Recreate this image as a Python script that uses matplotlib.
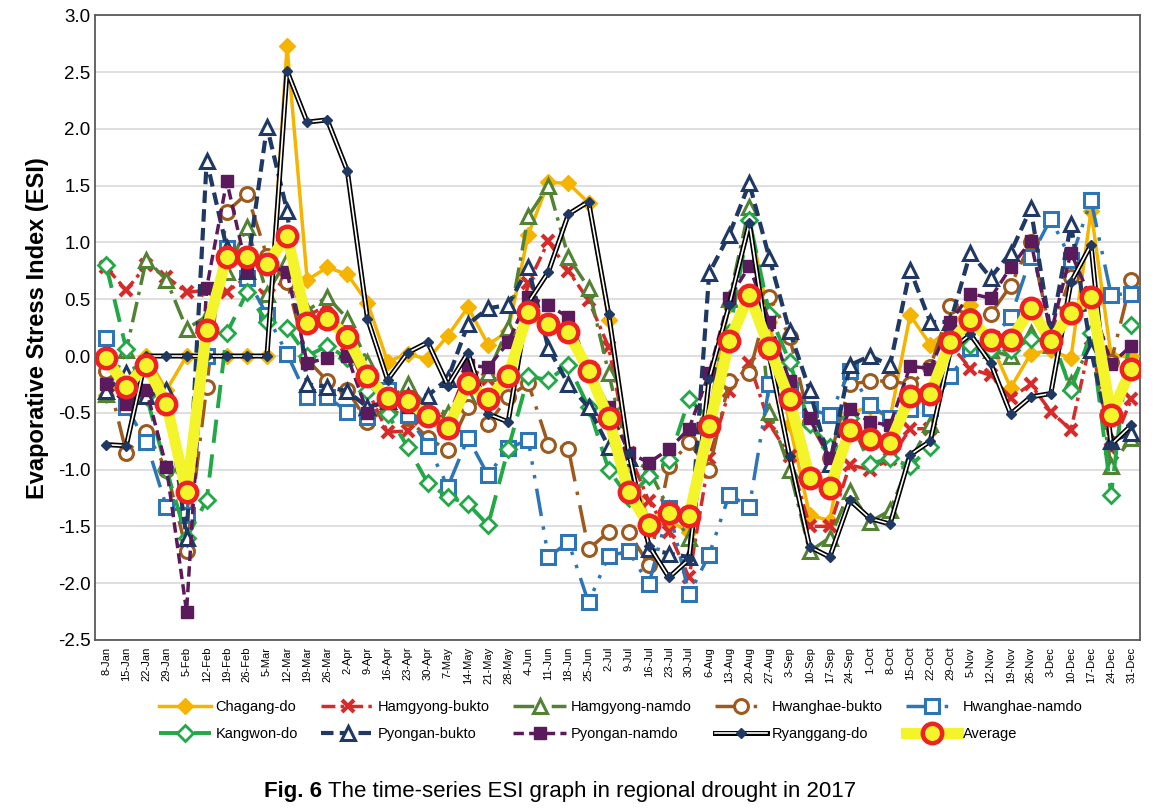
import numpy as np
import matplotlib.pyplot as plt

plt.rcParams['font.family'] = ['Liberation Sans', 'DejaVu Sans']

dates = ['8-Jan', '15-Jan', '22-Jan', '29-Jan', '5-Feb', '12-Feb', '19-Feb', '26-Feb',
         '5-Mar', '12-Mar', '19-Mar', '26-Mar', '2-Apr', '9-Apr', '16-Apr', '23-Apr',
         '30-Apr', '7-May', '14-May', '21-May', '28-May', '4-Jun', '11-Jun', '18-Jun',
         '25-Jun', '2-Jul', '9-Jul', '16-Jul', '23-Jul', '30-Jul', '6-Aug', '13-Aug',
         '20-Aug', '27-Aug', '3-Sep', '10-Sep', '17-Sep', '24-Sep', '1-Oct', '8-Oct',
         '15-Oct', '22-Oct', '29-Oct', '5-Nov', '12-Nov', '19-Nov', '26-Nov', '3-Dec',
         '10-Dec', '17-Dec', '24-Dec', '31-Dec']

chagang = [-0.34, -0.22, 0.0, -0.3, 0.0, 0.0, 0.0, 0.0, 0.0, 2.73, 0.67, 0.78, 0.72, 0.47,
           -0.05, 0.02, -0.03, 0.18, 0.43, 0.1, 0.22, 1.07, 1.53, 1.52, 1.35, 0.32,
           -0.95, -1.45, -1.45, -1.55, -0.5, 0.45, 1.2, 0.3, -0.6, -1.4, -1.45, -0.5,
           -0.45, -0.55, 0.36, 0.1, 0.25, 0.45, 0.12, -0.28, 0.02, 0.05, -0.02, 1.28, 0.0, 0.0]
hamgyong_bukto = [0.78, 0.58, 0.8, 0.7, 0.56, 0.58, 0.56, 0.7, 0.52, 0.7, 0.35, 0.45, 0.1,
                  -0.3, -0.67, -0.66, -0.5, -0.55, -0.1, -0.2, -0.2, 0.64, 1.01, 0.75, 0.49,
                  0.08, -0.85, -1.28, -1.55, -1.95, -0.9, -0.31, -0.06, -0.6, -0.88, -1.5,
                  -1.5, -0.96, -1.0, -0.91, -0.64, -0.64, 0.1, -0.11, -0.17, -0.37, -0.25,
                  -0.49, -0.65, 0.15, -0.82, -0.38]
hamgyong_namdo = [-0.33, 0.05, 0.85, 0.67, 0.24, 0.35, 0.74, 1.14, 0.55, 0.85, 0.4, 0.52, 0.33,
                  -0.05, -0.4, -0.25, -0.45, -0.5, -0.35, -0.15, 0.25, 1.23, 1.5, 0.87, 0.6,
                  -0.15, -0.9, -1.0, -1.35, -1.6, -0.55, 0.5, 1.31, -0.49, -1.0, -1.72, -1.6,
                  -1.19, -1.46, -1.36, -0.92, -0.6, 0.3, 0.17, 0.05, 0.0, 0.2, 0.1, -0.24,
                  0.1, -0.97, -0.72]
hwanghae_bukto = [-0.13, -0.85, -0.67, -1.0, -1.72, -0.27, 1.27, 1.43, 0.88, 0.65, -0.03,
                  -0.22, -0.3, -0.58, -0.45, -0.55, -0.72, -0.83, -0.45, -0.6, -0.36, -0.24,
                  -0.78, -0.82, -1.7, -1.55, -1.55, -1.84, -0.97, -0.76, -1.0, -0.22, -0.15,
                  0.52, 0.17, -0.58, -0.9, -0.25, -0.22, -0.22, -0.25, -0.1, 0.44, 0.35, 0.37,
                  0.62, 1.0, 0.2, 0.7, 0.5, -0.05, 0.67]
hwanghae_namdo = [0.16, -0.45, -0.76, -1.33, -1.4, 0.0, 0.95, 0.69, 0.36, 0.02, -0.36, -0.36,
                  -0.49, -0.54, -0.3, -0.52, -0.79, -1.15, -0.72, -1.05, -0.81, -0.74, -1.77,
                  -1.64, -2.17, -1.76, -1.72, -2.01, -1.34, -2.1, -1.75, -1.22, -1.33, -0.25,
                  -0.3, -0.47, -0.52, -0.13, -0.43, -0.55, -0.47, -0.46, -0.18, 0.07, 0.15,
                  0.34, 0.87, 1.21, 0.85, 1.37, 0.54, 0.55]
kangwon = [0.8, 0.06, -0.35, -1.0, -1.6, -1.27, 0.2, 0.56, 0.3, 0.25, 0.0, 0.09, -0.02, -0.31,
           -0.51, -0.8, -1.12, -1.24, -1.3, -1.49, -0.82, -0.18, -0.21, -0.08, -0.45, -1.0,
           -1.25, -1.06, -0.92, -0.38, -0.55, 0.2, 1.2, 0.37, -0.05, -0.6, -0.8, -0.55,
           -0.95, -0.9, -0.97, -0.8, 0.15, 0.1, 0.05, 0.05, 0.15, 0.2, -0.3, 0.2, -1.22, 0.27]
pyongan_bukto = [-0.31, -0.15, -0.35, -0.3, -1.6, 1.72, 0.95, 0.75, 2.02, 1.28, -0.25, -0.27,
                 -0.31, -0.45, -0.4, -0.35, -0.35, -0.2, 0.28, 0.42, 0.45, 0.78, 0.07, -0.25,
                 -0.45, -0.8, -0.9, -1.7, -1.74, -1.77, 0.73, 1.07, 1.52, 0.86, 0.22, -0.3,
                 -0.95, -0.08, 0.0, -0.08, 0.76, 0.3, 0.3, 0.91, 0.69, 0.91, 1.3, 0.2, 1.16,
                 0.05, -0.75, -0.68]
pyongan_namdo = [-0.25, -0.42, -0.3, -0.98, -2.25, 0.6, 1.54, 0.76, 0.8, 0.74, -0.06, -0.02,
                 0.0, -0.5, -0.35, -0.45, -0.55, -0.6, -0.08, -0.1, 0.12, 0.52, 0.45, 0.34,
                 -0.1, -0.45, -0.85, -0.94, -0.82, -0.64, -0.15, 0.51, 0.79, 0.3, -0.22, -0.55,
                 -0.9, -0.47, -0.58, -0.61, -0.09, -0.11, 0.3, 0.55, 0.51, 0.78, 1.01, 0.2,
                 0.91, 0.5, -0.07, 0.09]
ryanggang = [-0.78, -0.79, 0.0, 0.0, 0.0, 0.0, 0.0, 0.0, 0.0, 2.51, 2.06, 2.08, 1.63, 0.33,
             -0.21, 0.03, 0.12, -0.26, 0.03, -0.51, -0.58, 0.47, 0.74, 1.25, 1.36, 0.37,
             -0.85, -1.67, -1.95, -1.79, -0.2, 0.45, 1.17, 0.0, -0.88, -1.68, -1.77, -1.27,
             -1.43, -1.48, -0.87, -0.75, 0.05, 0.19, -0.06, -0.51, -0.36, -0.33, 0.65, 0.98,
             -0.78, -0.61]
average = [-0.02, -0.27, -0.08, -0.42, -1.2, 0.23, 0.87, 0.87, 0.81, 1.06, 0.29, 0.33, 0.17,
           -0.18, -0.37, -0.4, -0.53, -0.63, -0.24, -0.38, -0.18, 0.39, 0.28, 0.21, -0.13,
           -0.55, -1.2, -1.49, -1.38, -1.41, -0.62, 0.13, 0.54, 0.07, -0.38, -1.07, -1.16,
           -0.65, -0.73, -0.77, -0.35, -0.33, 0.12, 0.32, 0.14, 0.14, 0.42, 0.13, 0.38,
           0.52, -0.52, -0.11]

x = np.arange(len(dates))

fig = plt.figure(figsize=(11.6, 8.1), dpi=100)
ax = fig.add_axes([0.082, 0.21, 0.901, 0.771])

h = {}
h['Chagang-do'], = ax.plot(x, chagang, color='#F5B400', lw=2.5, marker='D', ms=8,
                           mfc='#F5B400', mec='#F5B400', zorder=3)
h['Hamgyong-bukto'], = ax.plot(x, hamgyong_bukto, color='#D52B2B', lw=2.5, ls=(0, (4, 1.5, 1, 1.5)),
                               marker='x', ms=9, mew=3, zorder=3)
h['Hamgyong-namdo'], = ax.plot(x, hamgyong_namdo, color='#548235', lw=2.5, ls=(0, (6, 2, 1, 2)),
                               marker='^', ms=10, mfc='white', mew=2.2, zorder=3)
h['Hwanghae-bukto'], = ax.plot(x, hwanghae_bukto, color='#9C5A1E', lw=2.5, ls=(0, (8, 3, 1, 3)),
                               marker='o', ms=10, mfc='white', mew=2.2, zorder=3)
h['Hwanghae-namdo'], = ax.plot(x, hwanghae_namdo, color='#2E75B6', lw=2.5, ls=(0, (8, 3, 1, 3, 1, 3)),
                               marker='s', ms=10, mfc='white', mew=2.2, zorder=3)
h['Kangwon-do'], = ax.plot(x, kangwon, color='#22A847', lw=2.8, ls=(0, (6, 3)),
                           marker='D', ms=8, mfc='white', mew=2, zorder=3)
h['Pyongan-bukto'], = ax.plot(x, pyongan_bukto, color='#1F3864', lw=3, ls=(0, (3, 1.5)),
                              marker='^', ms=10, mfc='white', mew=2.2, zorder=3)
h['Pyongan-namdo'], = ax.plot(x, pyongan_namdo, color='#5B1A5B', lw=2.5, ls=(0, (3, 1.5)),
                              marker='s', ms=9, mfc='#5B1A5B', zorder=3)
ax.plot(x, ryanggang, color='black', lw=3.6, zorder=3)
ax.plot(x, ryanggang, color='white', lw=1.2, zorder=3)
ax.plot(x, ryanggang, ls='none', marker='D', ms=5, color='#1F3864', zorder=3)
h['Ryanggang-do'] = (plt.Line2D([], [], color='black', lw=3.6),
                     plt.Line2D([], [], color='white', lw=1.2, marker='D', ms=5,
                                mfc='#1F3864', mec='#1F3864'))
h['Average'], = ax.plot(x, average, color='#F4F42A', lw=8, marker='o', ms=14,
                        mfc='#F4F42A', mec='#EE2222', mew=3.2, zorder=4)

ax.set_xlim(-0.55, 51.45)
ax.set_ylim(-2.5, 3.0)
ax.set_yticks(np.arange(-2.5, 3.01, 0.5))
ax.set_yticklabels([f'{v:.1f}' for v in np.arange(-2.5, 3.01, 0.5)], fontsize=13.5)
ax.set_xticks(x)
ax.set_xticklabels(dates, rotation=90, fontsize=8)
ax.tick_params(axis='both', length=0)
ax.tick_params(axis='x', pad=5)
ax.yaxis.grid(True, color='#D9D9D9', lw=1.2)
ax.set_axisbelow(True)
for s in ax.spines.values():
    s.set_color('#595959')
    s.set_linewidth(1.3)
ax.set_ylabel('Evaporative Stress Index (ESI)', fontsize=17, fontweight='bold', labelpad=6)

order = ['Chagang-do', 'Kangwon-do', 'Hamgyong-bukto', 'Pyongan-bukto', 'Hamgyong-namdo',
         'Pyongan-namdo', 'Hwanghae-bukto', 'Ryanggang-do', 'Hwanghae-namdo', 'Average']
fig.legend([h[k] for k in order], order, loc='center', bbox_to_anchor=(0.535, 0.11), ncol=5,
           frameon=False, fontsize=10.5, handlelength=3.6, handletextpad=0.3,
           columnspacing=1.6, labelspacing=0.9)

fig.text(0.278, 0.016, 'Fig. 6', ha='right', fontsize=16, fontweight='bold')
fig.text(0.283, 0.016, 'The time-series ESI graph in regional drought in 2017',
         ha='left', fontsize=16)

fig.savefig('out.png', dpi=100)
